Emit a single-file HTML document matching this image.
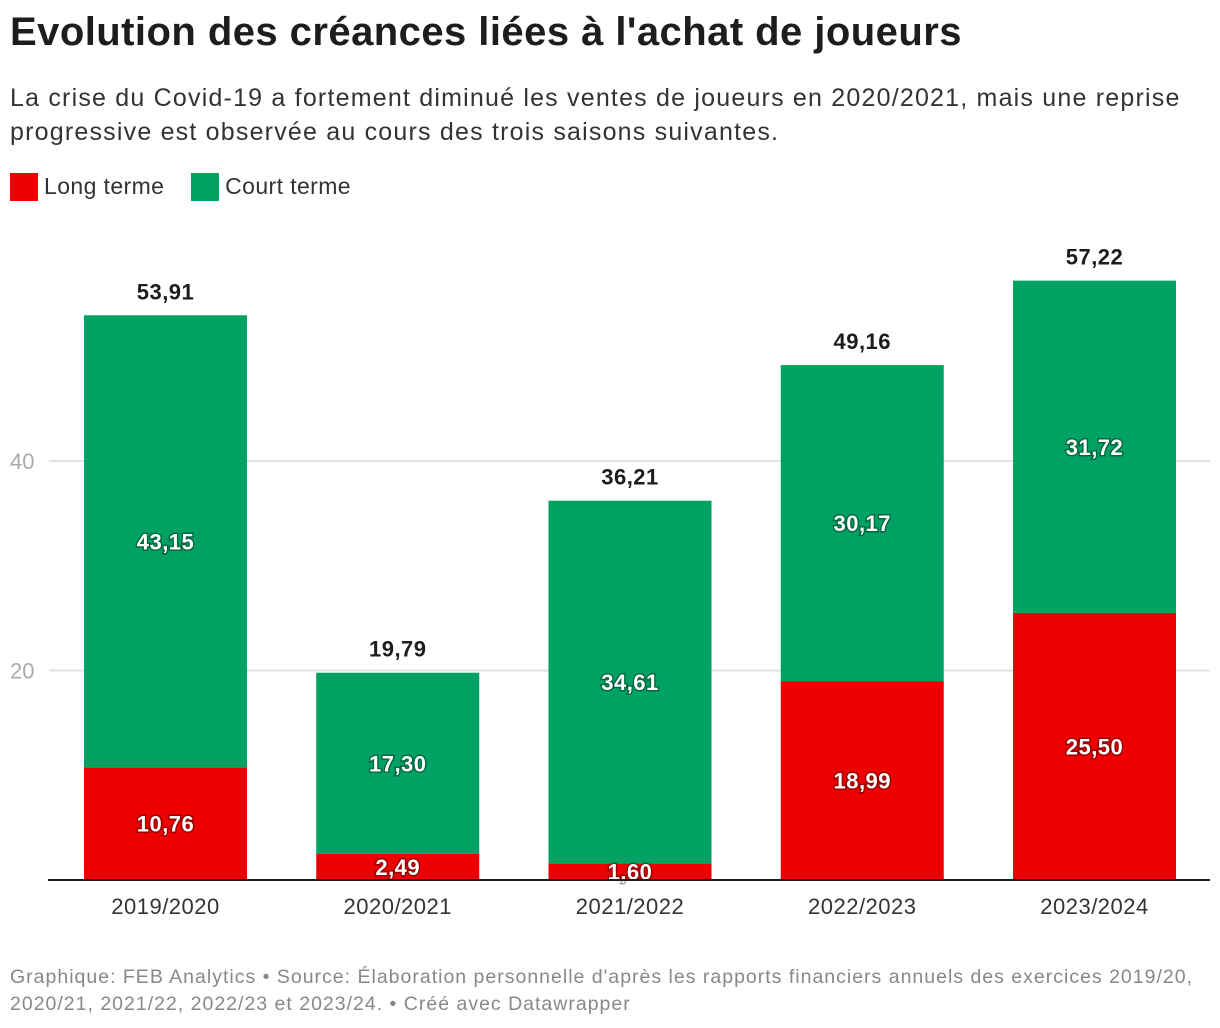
<!DOCTYPE html>
<html><head><meta charset="utf-8">
<style>
body{margin:0;width:1220px;height:1028px;background:#fff;font-family:"Liberation Sans",sans-serif;position:relative;overflow:hidden}
h1{position:absolute;left:10px;top:10px;margin:0;font-size:40px;font-weight:bold;color:#1d1d1d;letter-spacing:0.45px}
.sub{position:absolute;left:10px;top:81px;font-size:25px;line-height:34px;color:#333;width:1210px;letter-spacing:1.2px}
.legend{position:absolute;left:10px;top:172px;font-size:23px;color:#333;letter-spacing:0.4px}
.legend span{display:inline-block;vertical-align:middle}
.sw{width:28px;height:28px;margin-right:6px}
.foot{position:absolute;left:10px;top:964px;font-size:19.5px;line-height:27px;color:#888;width:1205px;letter-spacing:1px}
svg{position:absolute;left:0;top:0}
</style></head><body>
<h1>Evolution des créances liées à l'achat de joueurs</h1>
<div class="sub">La crise du Covid-19 a fortement diminué les ventes de joueurs en 2020/2021, mais une reprise progressive est observée au cours des trois saisons suivantes.</div>
<div class="legend">
<span class="sw" style="background:#ee0000"></span><span style="margin-right:20px">Long terme</span>
<span class="sw" style="background:#00a264"></span><span>Court terme</span>
</div>
<svg id="chart" width="1220" height="1028"></svg>
<div class="foot">Graphique: FEB Analytics • Source: Élaboration personnelle d'après les rapports financiers annuels des exercices 2019/20, 2020/21, 2021/22, 2022/23 et 2023/24. • Créé avec Datawrapper</div>
<script>
const categories=["2019/2020","2020/2021","2021/2022","2022/2023","2023/2024"];
const longTerme=[10.76,2.49,1.60,18.99,25.50];
const courtTerme=[43.15,17.30,34.61,30.17,31.72];
const totals=[53.91,19.79,36.21,49.16,57.22];
const yTicks=[20,40];
const NS="http://www.w3.org/2000/svg";
const svg=document.getElementById('chart');
const y=v=>880-v*10.475;
const xL=i=>84+i*232.25;
const bw=163;
const fmt=v=>v.toFixed(2).replace('.',',');
function mk(t,a){const e=document.createElementNS(NS,t);for(const k in a)e.setAttribute(k,a[k]);svg.appendChild(e);return e;}
yTicks.forEach(t=>{
 const g=mk('line',{x1:49,x2:1210,y1:y(t),y2:y(t),stroke:'#e2e2e2','stroke-width':2});
 
 
 const l=mk('text',{x:10,y:y(t)+8,'font-size':22,fill:'#aaa'});l.textContent=t;
 
 
});
categories.forEach((c,i)=>{
 const x=xL(i),cx=x+bw/2;
 const r=mk('rect',{x:x,y:y(longTerme[i]),width:bw,height:880-y(longTerme[i]),fill:'#ee0000'});
 
 
 const g=mk('rect',{x:x,y:y(longTerme[i]+courtTerme[i]),width:bw,height:courtTerme[i]*10.475,fill:'#00a264'});
 
 
 const lm=(y(longTerme[i])+880)/2;
 const tl=mk('text',{x:cx,y:Math.min(lm+8,881),'text-anchor':'middle','font-size':22,'font-weight':'bold',fill:'#fff','letter-spacing':0.5,style:'paint-order:stroke',stroke:'rgba(0,0,0,0.35)','stroke-width':3});
 tl.textContent=fmt(longTerme[i]);
 
 
 const cm=(y(longTerme[i])+y(longTerme[i]+courtTerme[i]))/2;
 const tc=mk('text',{x:cx,y:cm+8,'text-anchor':'middle','font-size':22,'font-weight':'bold',fill:'#fff','letter-spacing':0.5,style:'paint-order:stroke',stroke:'rgba(0,0,0,0.35)','stroke-width':3});
 tc.textContent=fmt(courtTerme[i]);
 
 
 const tt=mk('text',{x:cx,y:y(totals[i])-16,'text-anchor':'middle','font-size':22,'font-weight':'bold',fill:'#1d1d1d','letter-spacing':0.5});
 tt.textContent=fmt(totals[i]);
 
 
 const xl=mk('text',{x:cx,y:914,'text-anchor':'middle','font-size':22,fill:'#333','letter-spacing':0.5});
 xl.textContent=c;
 
 
});
const b=mk('line',{x1:48,x2:1210,y1:880,y2:880,stroke:'#1d1d1d','stroke-width':2});


</script>
</body></html>
